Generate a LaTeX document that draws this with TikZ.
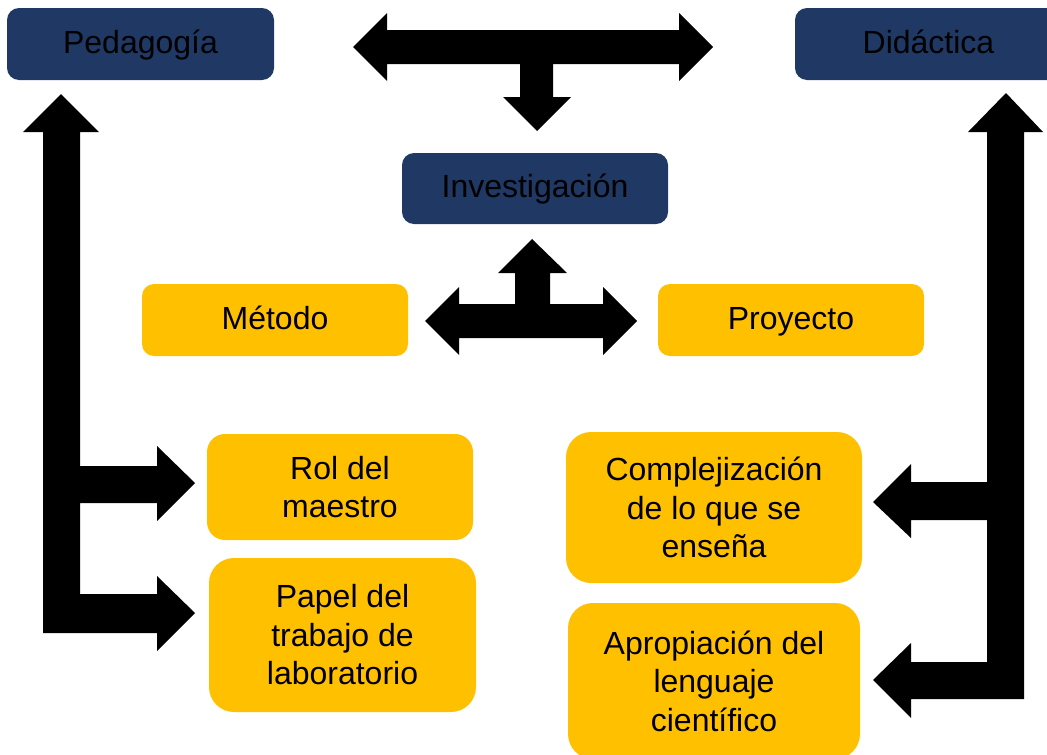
\documentclass[tikz,border=0pt]{standalone}
\usepackage{fontspec}
\setmainfont{Liberation Sans}
\definecolor{azulosc}{HTML}{1F3864}
\definecolor{amarillo}{HTML}{FFC000}
\tikzset{
    caja/.style={rounded corners=#1, inner sep=0pt, text=black,
        font=\fontsize{32}{38.5}\selectfont},
    linea/.style={text height=25pt, text depth=7pt},
    azul/.style={caja=12pt, linea, fill=azulosc, minimum width=267pt, minimum height=72pt},
    amar/.style={caja=#1, fill=amarillo},
}

\begin{document}
\begin{tikzpicture}[x=1pt, y=-1pt]
    \useasboundingbox (0,0) rectangle (1047,755);
    \clip (0,0) rectangle (1047,755);

    \node[azul] (pedagogia) at (140.5,44) {Pedagogía};
    \node[azul] (didactica) at (928.5,44) {Didáctica};
    \node[azul, minimum width=266pt, minimum height=71pt] (investigacion) at (535,188.5) {Investigación};

    \node[amar=12pt, linea, minimum width=266pt, minimum height=72pt] (metodo) at (275,320) {Método};
    \node[amar=12pt, linea, minimum width=266pt, minimum height=72pt] (proyecto) at (791,320) {Proyecto};
    \node[amar=18pt, align=center, minimum width=266pt, minimum height=106pt] (rol) at (340,487) {Rol del\\maestro};
    \node[amar=25pt, align=center, minimum width=267pt, minimum height=154pt] (papel) at (342.5,635) {Papel del\\trabajo de\\laboratorio};
    \node[amar=25pt, align=center, minimum width=296pt, minimum height=151pt] (complej) at (714,507.5) {Complejización\\de lo que se\\enseña};
    \node[amar=25pt, align=center, minimum width=292pt, minimum height=156pt] (apropia) at (714,681) {Apropiación del\\lenguaje\\científico};

    \fill[black] (353,47) -- (387,13) -- (387,30) -- (679,30) -- (679,13) -- (713,47) -- (679,81) -- (679,64)
        -- (553,64) -- (553,97) -- (571,97) -- (537,131) -- (503,97) -- (520,97) -- (520,64)
        -- (387,64) -- (387,81) -- cycle; %pedagogia-didactica-investigacion
    \fill[black] (532,239) -- (567,273) -- (550,273) -- (550,304) -- (603,304) -- (603,287) -- (637,321)
        -- (603,355) -- (603,338) -- (459,338) -- (459,355) -- (425,321) -- (459,287) -- (459,304)
        -- (515,304) -- (515,273) -- (498,273) -- cycle; %metodo-proyecto
    \fill[black] (61,94) -- (99,132) -- (80,132) -- (80,466) -- (157,466) -- (157,446) -- (195,483)
        -- (157,521) -- (157,503) -- (80,503) -- (80,594) -- (157,594) -- (157,576) -- (195,613)
        -- (157,651) -- (157,633) -- (43,633) -- (43,132) -- (23,132) -- cycle; %pedagogia
    \fill[black] (1006,93) -- (1043,132) -- (1024,132) -- (1024,699) -- (911,699) -- (911,718) -- (873,680)
        -- (911,643) -- (911,662) -- (987,662) -- (987,520) -- (911,520) -- (911,538) -- (873,502)
        -- (911,464) -- (911,482) -- (987,482) -- (987,132) -- (968,132) -- cycle; %didactica
\end{tikzpicture}
\end{document}
